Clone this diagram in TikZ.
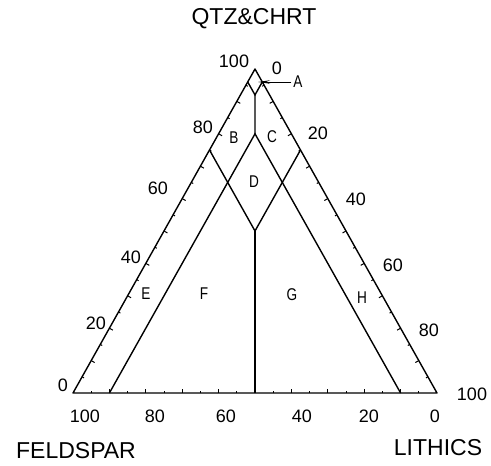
\documentclass[tikz,border=0pt]{standalone}
\usepackage{fontspec}
\usepackage{graphicx}
\setmainfont{Liberation Sans}
\usetikzlibrary{calc,arrows.meta}
\begin{document}
\begin{tikzpicture}[x=1pt,y=-1pt,
  edge/.style={line width=1.4pt, line join=round},
  field/.style={line width=1.4pt},
  tick/.style={line width=1pt},
  num/.style={font=\fontsize{18}{18}\selectfont, inner sep=0pt},
  axis/.style={font=\fontsize{23}{23}\selectfont, inner sep=0pt},
  reg/.style={font=\fontsize{17}{17}\selectfont, inner sep=0pt},
]
\useasboundingbox (0,0) rectangle (491,466);
% vertices
\coordinate (Fv) at (73,393);
\coordinate (Lv) at (437,393);
\coordinate (Qv) at (255,69);
% field points
\coordinate (a1) at (barycentric cs:Fv=0.04,Qv=0.96);
\coordinate (a2) at (barycentric cs:Lv=0.04,Qv=0.96);
\coordinate (a3) at (barycentric cs:Fv=0.04,Lv=0.04,Qv=0.92);
\coordinate (dT) at (barycentric cs:Fv=0.10,Lv=0.10,Qv=0.80);
\coordinate (dB) at (barycentric cs:Fv=0.25,Lv=0.25,Qv=0.50);
\coordinate (q75L) at (barycentric cs:Fv=0.25,Qv=0.75);
\coordinate (q75R) at (barycentric cs:Lv=0.25,Qv=0.75);
\coordinate (b90) at (barycentric cs:Fv=0.90,Lv=0.10);
\coordinate (b10) at (barycentric cs:Fv=0.10,Lv=0.90);
\coordinate (b50) at (barycentric cs:Fv=0.50,Lv=0.50);
% triangle
\draw[edge] (Fv) -- (Qv) -- (Lv) -- cycle;
% field boundaries
\draw[field] (a1) -- (a3) -- (a2);
\draw[field] (a3) -- (dT);
\draw[field] (b90) -- (dT) -- (b10);
\draw[field] (q75L) -- (dB) -- (q75R);
\draw[field] (dB) -- (b50);
% ticks
\foreach \k in {1,...,19}{
  \pgfmathsetmacro\t{\k/20}
  \pgfmathsetmacro\len{isodd(\k) ? 2.2 : 4}
  \draw[tick] ($(Fv)!\t!(Qv)$) -- ++(0.87*\len,0.49*\len);
  \draw[tick] ($(Qv)!\t!(Lv)$) -- ++(-0.87*\len,0.49*\len);
  \draw[tick] ($(Fv)!\t!(Lv)$) -- ++(0,-\len);
}
% axis titles
\node[axis] (qt) at (254,19) {QTZ\&CHRT};
\node[axis] (fe) at (76,451) {FELDSPAR};
\node[axis] (li) at (438,448) {LITHICS};
% quartz scale (left)
\node[num] (q100) at (234,61) {100};
\node[num] (q80) at (203,127) {80};
\node[num] (q60) at (158,188) {60};
\node[num] (q40) at (131,257) {40};
\node[num] (q20) at (96,323) {20};
\node[num] (q0) at (63,385) {0};
% lithics scale (right)
\node[num] (l0) at (277,68) {0};
\node[num] (l20) at (318,133) {20};
\node[num] (l40) at (356,199) {40};
\node[num] (l60) at (393,265) {60};
\node[num] (l80) at (429,330) {80};
\node[num] (l100) at (472,394) {100};
% feldspar scale (bottom)
\node[num] (f100) at (85,416) {100};
\node[num] (f80) at (155,416) {80};
\node[num] (f60) at (226,416) {60};
\node[num] (f40) at (302,416) {40};
\node[num] (f20) at (369,416) {20};
\node[num] (f0) at (435,416) {0};
% region labels
\node[reg] (rA) at (298,82) {\scalebox{0.8}[1]{A}};
\node[reg] (rB) at (234,138) {\scalebox{0.8}[1]{B}};
\node[reg] (rC) at (272,137) {\scalebox{0.8}[1]{C}};
\node[reg] (rD) at (254,182) {\scalebox{0.8}[1]{D}};
\node[reg] (rE) at (146,294) {\scalebox{0.8}[1]{E}};
\node[reg] (rF) at (204,294) {\scalebox{0.8}[1]{F}};
\node[reg] (rG) at (292,295) {\scalebox{0.8}[1]{G}};
\node[reg] (rH) at (362,298) {\scalebox{0.8}[1]{H}};
% pointer to A
\coordinate (ap) at (258,82);
\draw[line width=1pt, -{Stealth[length=12pt,width=3.5pt]}] ([xshift=-2pt]rA.west) -- (ap);
\end{tikzpicture}
\end{document}
